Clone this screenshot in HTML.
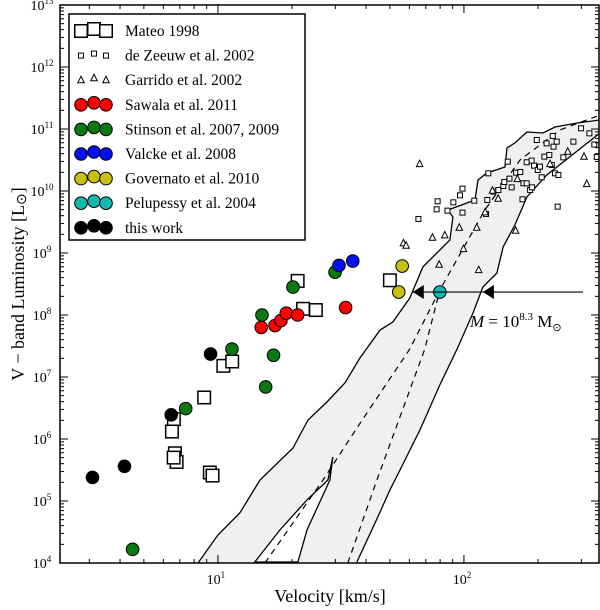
<!DOCTYPE html>
<html><head><meta charset="utf-8"><style>
html,body{margin:0;padding:0;background:#fff;}
svg{display:block;font-family:"Liberation Serif",serif;}
</style></head><body>
<svg id="chart" width="600" height="610" viewBox="0 0 600 610"></svg>
<script>
// ---- data (log10 velocity [km/s], log10 V-band luminosity [Lsun]) ----
const mateoLogV=[0.821,0.813,0.825,0.832,0.820,0.967,0.978,0.944,1.022,1.058,1.324,1.346,1.398,1.699];
const mateoLogL=[6.32,6.12,5.77,5.63,5.70,5.46,5.41,6.67,7.18,7.25,8.55,8.10,8.08,8.56];
const zeeuwLogV=[1.815,1.893,1.889,1.933,1.957,1.994,1.984,1.994,2.042,2.090,2.095,2.099,2.120,2.140,2.160,2.164,2.185,2.194,2.178,2.212,2.229,2.238,2.242,2.255,2.269,2.277,2.255,2.275,2.285,2.296,2.300,2.309,2.316,2.327,2.336,2.347,2.357,2.361,2.364,2.370,2.377,2.384,2.381,2.404,2.445,2.476,2.510,2.530,2.540];
const zeeuwLogL=[9.549,9.834,9.705,9.683,9.817,10.038,9.930,9.651,9.844,9.629,9.855,10.285,9.990,10.016,10.081,10.145,10.199,10.059,10.473,10.296,10.307,9.866,10.124,10.124,10.016,10.059,10.463,10.490,10.409,10.823,10.339,10.393,10.221,10.554,10.769,10.581,10.420,10.887,10.715,10.285,10.796,10.258,9.748,10.543,10.796,11.011,10.930,10.75,10.55];
const garridoLogV=[1.820,1.754,1.765,1.872,1.922,1.899,1.981,2.052,1.998,2.060,2.086,2.116,2.139,2.210,2.217,2.350,2.422,2.488,2.499];
const garridoLogL=[10.436,9.156,9.119,9.248,9.285,8.812,9.409,9.409,9.065,8.726,9.656,10.006,9.877,9.360,10.194,10.436,10.635,10.554,10.113];
const sawalaLogV=[1.176,1.232,1.256,1.278,1.324,1.519];
const sawalaLogL=[7.80,7.83,7.91,8.03,8.00,8.12];
const stinsonLogV=[0.653,0.869,1.057,1.226,1.194,1.179,1.305,1.476];
const stinsonLogL=[4.22,6.49,7.45,7.35,6.84,8.00,8.45,8.69];
const valckeLogV=[1.492,1.548];
const valckeLogL=[8.80,8.87];
const governatoLogV=[1.749,1.735];
const governatoLogL=[8.79,8.37];
const pelupessyLogV=[1.902];
const pelupessyLogL=[8.37];
const thisWorkLogV=[0.49,0.62,0.81,0.97];
const thisWorkLogL=[5.38,5.56,6.39,7.37];
// band boundaries
const bandUpperLogV=[0.919,1.000,1.089,1.171,1.305,1.366,1.443,1.516,1.577,1.659,1.711,1.780,1.833,1.943,1.955,1.935,2.045,2.057,2.093,2.167,2.175,2.207,2.256,2.321,2.370,2.459,2.553];
const bandUpperLogL=[4.000,4.452,4.807,5.339,5.855,6.307,6.597,6.904,7.307,7.758,7.887,8.274,8.775,9.210,9.581,9.694,9.855,10.178,10.291,10.387,10.694,10.775,10.952,10.936,11.033,11.097,11.145];
const bandLowerLogV=[2.553,2.337,2.256,2.207,2.159,2.134,2.077,2.037,1.972,1.902,1.821,1.740,1.699,1.650,1.565];
const bandLowerLogL=[10.936,10.258,9.904,9.452,9.097,8.678,8.452,8.033,7.452,6.871,6.145,5.500,5.178,4.742,4.016];
const wedgeLogV=[1.150,1.252,1.362,1.447,1.467,1.455,1.362,1.325];
const wedgeLogL=[4.016,4.532,5.017,5.339,5.710,5.339,4.532,4.016];
const dashALogV=[1.191,1.427,1.565,1.780,1.902,2.085,2.228,2.390,2.553];
const dashALogL=[4.000,5.339,6.178,7.452,8.404,9.694,10.5,10.984,11.226];
const dashBLogV=[1.528,1.646,1.841,1.902];
const dashBLogL=[4.0,5.339,7.452,8.404];
const arrowLogL=8.37;
const arrowLogV=[1.792,2.077,2.484];
const xTickExp=[1,2];
const yTickExp=[4,5,6,7,8,9,10,11,12,13];
const legendLabels=["Mateo 1998","de Zeeuw et al. 2002","Garrido et al. 2002","Sawala et al. 2011","Stinson et al. 2007, 2009","Valcke et al. 2008","Governato et al. 2010","Pelupessy et al. 2004","this work"];

// ---- layout ----
const L=60,R=599,T=5,B=563;
const xMin=0.358,xMax=2.549,yMin=4,yMax=13;
const X=v=>L+(v-xMin)/(xMax-xMin)*(R-L);
const Y=v=>B-(v-yMin)/(yMax-yMin)*(B-T);
const NS="http://www.w3.org/2000/svg";
const svg=document.getElementById('chart');
function mk(tag,attrs,parent){const e=document.createElementNS(NS,tag);for(const k in attrs)e.setAttribute(k,attrs[k]);(parent||svg).appendChild(e);return e;}
function pts(xs,ys){return xs.map((v,i)=>X(v).toFixed(1)+','+Y(ys[i]).toFixed(1)).join(' ');}

const clip=mk('clipPath',{id:'pc'});mk('rect',{x:L,y:T,width:R-L,height:B-T},clip);
const plot=mk('g',{'clip-path':'url(#pc)'});



// band
const band=mk('polygon',{points:pts(bandUpperLogV.concat(bandLowerLogV),bandUpperLogL.concat(bandLowerLogL)),fill:'#f0f0f0',stroke:'none'},plot);


const wedge=mk('polygon',{points:pts(wedgeLogV,wedgeLogL),fill:'#fff',stroke:'#000','stroke-width':1.3},plot);


const up=mk('polyline',{points:pts(bandUpperLogV,bandUpperLogL),fill:'none',stroke:'#000','stroke-width':1.3},plot);


const lo=mk('polyline',{points:pts(bandLowerLogV,bandLowerLogL),fill:'none',stroke:'#000','stroke-width':1.3},plot);


const da=mk('polyline',{points:pts(dashALogV,dashALogL),fill:'none',stroke:'#000','stroke-width':1.2,'stroke-dasharray':'6,5'},plot);


const db=mk('polyline',{points:pts(dashBLogV,dashBLogL),fill:'none',stroke:'#000','stroke-width':1.2,'stroke-dasharray':'6,5'},plot);



// markers
function sq(g,x,y,s,sw){return mk('rect',{x:x-s/2,y:y-s/2,width:s,height:s,fill:'#fff',stroke:'#000','stroke-width':sw},g);}
function tri(g,x,y,s){return mk('polygon',{points:`${x},${y-s*0.6} ${x-s/2},${y+s*0.4} ${x+s/2},${y+s*0.4}`,fill:'#fff',stroke:'#000','stroke-width':1},g);}
function circ(g,x,y,c){return mk('circle',{cx:x,cy:y,r:6.3,fill:c,stroke:'#000','stroke-width':1},g);}
const series=[
 ['mateo',mateoLogV,mateoLogL,(g,x,y)=>sq(g,x,y,12.5,1.5)],
 ['de-zeeuw',zeeuwLogV,zeeuwLogL,(g,x,y)=>sq(g,x,y,5,1)],
 ['garrido',garridoLogV,garridoLogL,(g,x,y)=>tri(g,x,y,6.5)],
 ['sawala',sawalaLogV,sawalaLogL,(g,x,y)=>circ(g,x,y,'#f00')],
 ['stinson',stinsonLogV,stinsonLogL,(g,x,y)=>circ(g,x,y,'#0a7a10')],
 ['valcke',valckeLogV,valckeLogL,(g,x,y)=>circ(g,x,y,'#0010f0')],
 ['governato',governatoLogV,governatoLogL,(g,x,y)=>circ(g,x,y,'#c8c010')],
 ['pelupessy',pelupessyLogV,pelupessyLogL,(g,x,y)=>circ(g,x,y,'#10b8b0')],
 ['this-work',thisWorkLogV,thisWorkLogL,(g,x,y)=>circ(g,x,y,'#000')]
];
const markers=[];
series.forEach(s=>{
 const g=mk('g',{},plot);
 
 
 s[1].forEach((v,i)=>{const m=s[3](g,X(v),Y(s[2][i]));
  
  });
});

// arrow
const ay=Y(arrowLogL);
const al=mk('line',{x1:X(arrowLogV[0]),y1:ay,x2:X(arrowLogV[2]),y2:ay,stroke:'#000','stroke-width':1.2},plot);


[arrowLogV[0],arrowLogV[1]].forEach(v=>{const x=X(v);
 const t=mk('polygon',{points:`${x},${ay} ${x+11},${ay-7} ${x+11},${ay+7}`,fill:'#000'},plot);
 
 });
const mt=mk('text',{x:470,y:327,'font-size':17});


mt.innerHTML='<tspan font-style="italic">M</tspan> = 10<tspan font-size="11" dy="-7">8.3</tspan><tspan dy="7"> M</tspan><tspan font-size="11" dy="4">⊙</tspan>';

// ticks
const tg=mk('g',{stroke:'#000','stroke-width':1});


for(let e=0;e<=3;e++)for(let m=1;m<10;m++){const v=e+Math.log10(m);if(v<xMin||v>xMax)continue;const x=X(v),len=m==1?8:4;
 mk('line',{x1:x,y1:B,x2:x,y2:B-len},tg);mk('line',{x1:x,y1:T,x2:x,y2:T+len},tg);}
for(let e=4;e<=13;e++)for(let m=1;m<10;m++){const v=e+Math.log10(m);if(v>yMax+0.001)continue;const y=Y(v),len=m==1?8:4;
 mk('line',{x1:L,y1:y,x2:L+len,y2:y},tg);mk('line',{x1:R,y1:y,x2:R-len,y2:y},tg);}
const frame=mk('rect',{x:L,y:T,width:R-L,height:B-T,fill:'none',stroke:'#000','stroke-width':1.5});



// tick labels
xTickExp.forEach(e=>{const t=mk('text',{x:X(e)-2,y:584,'font-size':14,'text-anchor':'middle'});
 
 
 t.innerHTML='10<tspan font-size="9" dy="-6">'+e+'</tspan>';});
yTickExp.forEach(e=>{const t=mk('text',{x:42,y:Y(e)+5,'font-size':14,'text-anchor':'middle'});
 
 
 t.innerHTML='10<tspan font-size="9" dy="-6">'+e+'</tspan>';});

// axis titles
const xt=mk('text',{x:330,y:602,'font-size':18,'text-anchor':'middle'});


xt.textContent='Velocity [km/s]';
const yt=mk('text',{x:0,y:0,'font-size':18,'text-anchor':'middle',transform:'translate(24,284) rotate(-90)'});


yt.innerHTML='V − band Luminosity [L<tspan font-size="14" dy="2">⊙</tspan><tspan dy="-2">]</tspan>';

// legend
const lg=mk('g',{});


mk('rect',{x:69,y:14,width:236,height:226,fill:'#fff',stroke:'#000','stroke-width':1.5},lg);
const legendDraw=[
 (g,x,y)=>sq(g,x,y,12.5,1.5),(g,x,y)=>sq(g,x,y,5,1),(g,x,y)=>tri(g,x,y,6.5),
 (g,x,y)=>circ(g,x,y,'#f00'),(g,x,y)=>circ(g,x,y,'#0a7a10'),(g,x,y)=>circ(g,x,y,'#0010f0'),
 (g,x,y)=>circ(g,x,y,'#c8c010'),(g,x,y)=>circ(g,x,y,'#10b8b0'),(g,x,y)=>circ(g,x,y,'#000')];
legendLabels.forEach((lab,i)=>{
 const y=31+i*24.6;
 const g=mk('g',{},lg);
 
 
 legendDraw[i](g,81,y);legendDraw[i](g,94,y-2);legendDraw[i](g,106,y);
 const t=mk('text',{x:125,y:y+5,'font-size':15.5},g);t.textContent=lab;
});
</script>
</body></html>
